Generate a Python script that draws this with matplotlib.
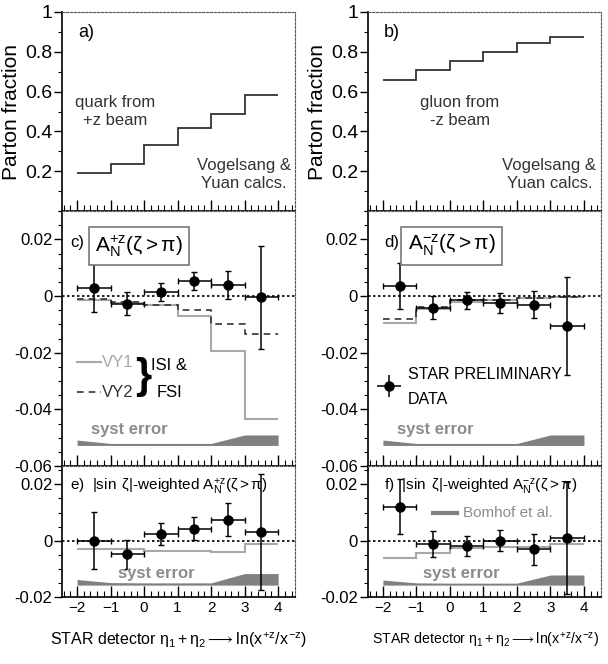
import matplotlib
matplotlib.use("Agg")
import matplotlib.pyplot as plt
from matplotlib.ticker import FixedLocator, MultipleLocator

FONT = "Liberation Sans"
plt.rcParams['font.family'] = [FONT, 'DejaVu Sans']
plt.rcParams['mathtext.fontset'] = 'custom'
plt.rcParams['mathtext.rm'] = FONT
plt.rcParams['mathtext.it'] = FONT
plt.rcParams['mathtext.bf'] = FONT + ':bold'
plt.rcParams['mathtext.sf'] = FONT

# ---- data ----
edges = [-2, -1, 0, 1, 2, 3, 4]
centers = [-1.5, -0.5, 0.5, 1.5, 2.5, 3.5]

quark_frac = [0.19, 0.237, 0.33, 0.415, 0.49, 0.585]
gluon_frac = [0.658, 0.708, 0.752, 0.797, 0.843, 0.872]

an_plus = [0.003, -0.0027, 0.0015, 0.0053, 0.0039, -0.0004]
an_plus_err = [0.0087, 0.0041, 0.0031, 0.0033, 0.005, 0.0182]
vy1_plus = [-0.0012, -0.0023, -0.0033, -0.007, -0.0194, -0.0432]
vy2_plus = [-0.001, -0.002, -0.003, -0.0049, -0.010, -0.0135]

an_minus = [0.0035, -0.0041, -0.0015, -0.0024, -0.003, -0.0106]
an_minus_err = [0.0082, 0.004, 0.003, 0.0034, 0.0047, 0.0173]
vy1_minus = [-0.0094, -0.0045, -0.002, -0.0013, -0.0008, -0.0004]
vy2_minus = [-0.008, -0.0037, -0.0015, -0.0012, -0.0008, -0.0003]

sinw_plus = [0.0, -0.0049, 0.0024, 0.0043, 0.0075, 0.0032]
sinw_plus_err = [0.0101, 0.005, 0.0039, 0.004, 0.0059, 0.0206]
bomhof_plus = [-0.003, -0.003, -0.0036, -0.0037, -0.0042, -0.0012]

sinw_minus = [0.0121, -0.0013, -0.0019, 0.0, -0.0031, 0.001]
sinw_minus_err = [0.0098, 0.0046, 0.0035, 0.0037, 0.0055, 0.0198]
bomhof_minus = [-0.0063, -0.0043, -0.0027, -0.0021, -0.0024, -0.0012]

syst_an_top = [-0.0508, -0.052, -0.052, -0.052, -0.052, -0.049, -0.049]
syst_an_bot = [-0.0527] * 7
syst_sinw_plus_top = [-0.0138, -0.0149, -0.015, -0.015, -0.015, -0.0117, -0.0117]
syst_sinw_minus_top = [-0.014, -0.015, -0.0151, -0.0151, -0.0151, -0.0122, -0.0122]
syst_sinw_bot = [-0.0158] * 7

frac_ticks = [0.2, 0.4, 0.6, 0.8, 1.0]
frac_labels = ["0.2", "0.4", "0.6", "0.8", "1"]
an_ticks = [-0.06, -0.04, -0.02, 0, 0.02]
an_labels = ["-0.06", "-0.04", "-0.02", "0", "0.02"]
sinw_ticks = [-0.02, 0, 0.02]
sinw_labels = ["-0.02", "0", "0.02"]
x_ticks = [-2, -1, 0, 1, 2, 3, 4]

GRAY_LINE = "#a8a8a8"
DARK_LINE = "#333333"
BAND = "#808080"
SYST_TXT = "#8c8c8c"


def style(ax, ylim, yticks, ylabels, yminor, tick_fs, xlabels=False):
    ax.set_xlim(-2.45, 4.5)
    ax.set_ylim(ylim)
    ax.xaxis.set_major_locator(FixedLocator(x_ticks))
    ax.xaxis.set_minor_locator(MultipleLocator(0.2))
    ax.yaxis.set_major_locator(FixedLocator(yticks))
    ax.set_yticklabels(ylabels, fontsize=tick_fs)
    ax.yaxis.set_minor_locator(MultipleLocator(yminor))
    ax.tick_params(axis='x', which='both', direction='in', top=False,
                   labelbottom=xlabels, labelsize=11, pad=3)
    ax.tick_params(axis='x', which='major', length=8, width=1)
    ax.tick_params(axis='x', which='minor', length=4, width=0.8)
    ax.tick_params(axis='y', which='both', direction='out', right=False, pad=1)
    ax.tick_params(axis='y', which='major', length=6, width=1)
    ax.tick_params(axis='y', which='minor', length=3, width=0.8)
    for s in ('top', 'right'):
        ax.spines[s].set_linestyle((0, (2, 1.5)))
        ax.spines[s].set_linewidth(0.8)
        ax.spines[s].set_color('#555555')
    for s in ('left', 'bottom'):
        ax.spines[s].set_linewidth(1.2)


fig = plt.figure(figsize=(6.08, 6.64), dpi=100)
W = 0.383
lefts = [0.102, 0.605]
ax_a = fig.add_axes([lefts[0], 0.682, W, 0.300])
ax_b = fig.add_axes([lefts[1], 0.682, W, 0.300])
ax_c = fig.add_axes([lefts[0], 0.298, W, 0.384])
ax_d = fig.add_axes([lefts[1], 0.298, W, 0.384])
ax_e = fig.add_axes([lefts[0], 0.101, W, 0.197])
ax_f = fig.add_axes([lefts[1], 0.101, W, 0.197])

# ---- parton fractions ----
for ax, frac, lab, txt, tx in [(ax_a, quark_frac, "a)", "quark from\n+z beam", -0.85),
                               (ax_b, gluon_frac, "b)", "gluon from\n-z beam", 0.3)]:
    style(ax, (0, 1), frac_ticks, frac_labels, 0.1, 14)
    ax.stairs(frac, edges, baseline=None, color=DARK_LINE, lw=1.3)
    ax.set_ylabel("Parton fraction", fontsize=15, labelpad=3)
    ax.text(-1.97, 0.895, lab, fontsize=13, va='center')
    ax.text(tx, 0.5, txt, fontsize=12, ha='center', va='center', color=DARK_LINE,
            linespacing=1.3)
    ax.text(2.97, 0.183, "Vogelsang &\nYuan calcs.", fontsize=12, ha='center',
            va='center', color=DARK_LINE, linespacing=1.3)

# ---- A_N panels ----
for ax, y, err, vy1, vy2, lab, sup, lx, bx in [
        (ax_c, an_plus, an_plus_err, vy1_plus, vy2_plus, "c)", "+z", -2.2, -0.15),
        (ax_d, an_minus, an_minus_err, vy1_minus, vy2_minus, "d)", "-z", -1.97, 0.05)]:
    style(ax, (-0.06, 0.03), an_ticks, an_labels, 0.005, 12)
    ax.axhline(0, color='black', ls=(0, (1.5, 1.5)), lw=1.2)
    ax.fill_between(edges, syst_an_bot, syst_an_top, color=BAND, lw=0)
    ax.stairs(vy1, edges, baseline=None, color=GRAY_LINE, lw=1.5)
    ax.stairs(vy2, edges, baseline=None, color=DARK_LINE, lw=1.2, ls=(0, (4, 3)))
    ax.errorbar(centers, y, xerr=0.5, yerr=err, fmt='o', color='black', ms=6.5,
                capsize=2.5, elinewidth=1.1, capthick=1.0)
    ax.text(lx, 0.019, lab, fontsize=12, va='center')
    ax.text(bx, 0.0178, r"$\mathrm{A}_\mathrm{N}^{%s}(\zeta > \pi)$" % sup,
            fontsize=15, ha='center', va='center',
            bbox=dict(boxstyle='square,pad=0.3', fc='white', ec='#777777', lw=1.2))
    ax.text(-0.45, -0.047, "syst error", fontsize=12, fontweight='bold',
            color=SYST_TXT, ha='center', va='center')

# legend pieces panel c
ax_c.plot([-2.0, -1.3], [-0.0234, -0.0234], color=GRAY_LINE, lw=1.5)
ax_c.plot([-2.0, -1.3], [-0.0339, -0.0339], color=DARK_LINE, lw=1.2, ls=(0, (4, 3)))
ax_c.text(-1.25, -0.0234, "VY1", fontsize=12, color=GRAY_LINE, va='center')
ax_c.text(-1.25, -0.0339, "VY2", fontsize=12, color=DARK_LINE, va='center')
ax_c.text(-0.28, -0.0287, "}", fontsize=30, fontweight='bold', va='center', ha='left')
ax_c.text(0.75, -0.0245, "ISI &", fontsize=12, ha='center', va='center')
ax_c.text(0.75, -0.034, "FSI", fontsize=12, ha='center', va='center')

# legend panel d
ax_d.errorbar([-1.82], [-0.0317], xerr=0.35, yerr=0.004, fmt='o', color='black',
              ms=6.5, elinewidth=1.1, capsize=0)
ax_d.text(-1.25, -0.0277, "STAR PRELIMINARY", fontsize=11.5, va='center')
ax_d.text(-1.25, -0.0365, "DATA", fontsize=11.5, va='center')

# ---- sin-weighted panels ----
for ax, y, err, th, top, lab, sup in [
        (ax_e, sinw_plus, sinw_plus_err, bomhof_plus, syst_sinw_plus_top, "e)", "+z"),
        (ax_f, sinw_minus, sinw_minus_err, bomhof_minus, syst_sinw_minus_top, "f)", "-z")]:
    style(ax, (-0.02, 0.0265), sinw_ticks, sinw_labels, 0.005, 12, xlabels=True)
    ax.axhline(0, color='black', ls=(0, (1.5, 1.5)), lw=1.2)
    ax.fill_between(edges, syst_sinw_bot, top, color=BAND, lw=0)
    ax.stairs(th, edges, baseline=None, color=GRAY_LINE, lw=1.5)
    ax.errorbar(centers, y, xerr=0.5, yerr=err, fmt='o', color='black', ms=6.5,
                capsize=2.5, elinewidth=1.1, capthick=1.0)
    ax.text(-2.2 if sup == "+z" else -1.97, 0.0192,
            lab + r"  $|\sin\ \zeta|$-weighted $\mathrm{A}_\mathrm{N}^{%s}(\zeta > \pi)$" % sup,
            fontsize=11, va='center')
    ax.text(0.35, -0.0116, "syst error", fontsize=12, fontweight='bold',
            color=SYST_TXT, ha='center', va='center')

ax_f.plot([-0.5, 0.22], [0.0098, 0.0098], color=BAND, lw=3)
ax_f.text(0.39, 0.0098, "Bomhof et al.", fontsize=11, color=SYST_TXT, va='center')

xlab = r"STAR detector $\eta_1 + \eta_2 \longrightarrow \mathrm{ln}(x^{+z}/x^{-z})$"
fig.text(50 / 608, 1 - 640 / 664, xlab, fontsize=11.5, ha='left', va='center')
fig.text(372 / 608, 1 - 640 / 664, xlab, fontsize=10.2, ha='left', va='center')

fig.savefig("out.png", dpi=100)
